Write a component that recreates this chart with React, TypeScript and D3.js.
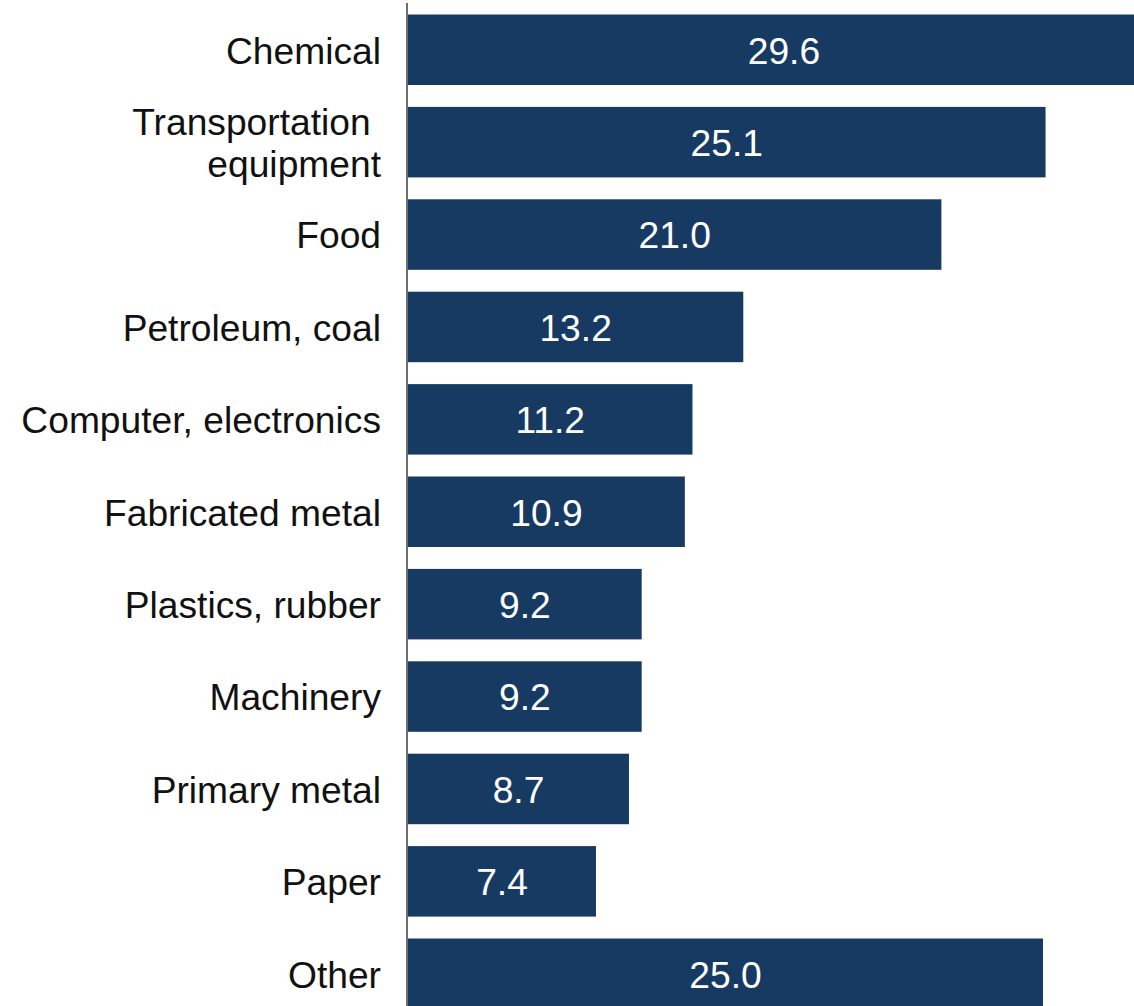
import React from "react";
import * as d3 from "d3";

const categories: string[][] = [
  ["Chemical"],
  ["Transportation ", "equipment"],
  ["Food"],
  ["Petroleum, coal"],
  ["Computer, electronics"],
  ["Fabricated metal"],
  ["Plastics, rubber"],
  ["Machinery"],
  ["Primary metal"],
  ["Paper"],
  ["Other"],
];
const values: number[] = [29.6, 25.1, 21.0, 13.2, 11.2, 10.9, 9.2, 9.2, 8.7, 7.4, 25.0];

const W = 1134;
const H = 1006;

export default function App() {
  const keys = categories.map((c) => c.join(" "));
  const x = d3.scaleLinear().domain([0, 10]).range([408, 408 + 254]);
  const y = d3
    .scaleBand<string>()
    .domain(keys)
    .range([3.55, 1019.95])
    .paddingInner(0.237)
    .paddingOuter(0.1185);
  const bw = y.bandwidth();
  const fs = 37.2;
  const lineH = 42;
  const font = "'Liberation Sans', Arial, sans-serif";
  return (
    <svg
      width={W}
      height={H}
      style={{ position: "absolute", left: 0, top: 0, background: "#fff" }}
    >
      {keys.map((k, i) => {
        const y0 = y(k)!;
        const cy = y0 + bw / 2;
        const v = values[i];
        const lines = categories[i];
        return (
          <g key={k}>
            <rect x={x(0)} y={y0} width={x(v) - x(0)} height={bw} fill="#173a63" />
            <text
              x={(x(0) + x(v)) / 2}
              y={cy}
              dy="0.37em"
              textAnchor="middle"
              fill="#fff"
              fontSize={fs}
              fontFamily={font}
            >
              {v.toFixed(1)}
            </text>
            {lines.map((ln, j) => (
              <text
                key={j}
                x={381}
                y={cy + (j - (lines.length - 1) / 2) * lineH}
                dy="0.37em"
                textAnchor="end"
                fill="#111"
                fontSize={fs}
                fontFamily={font}
                style={{ whiteSpace: "pre" }}
              >
                {ln}
              </text>
            ))}
          </g>
        );
      })}
      <line x1={407} x2={407} y1={3} y2={H} stroke="#6e6e6e" strokeWidth={2} />
    </svg>
  );
}
